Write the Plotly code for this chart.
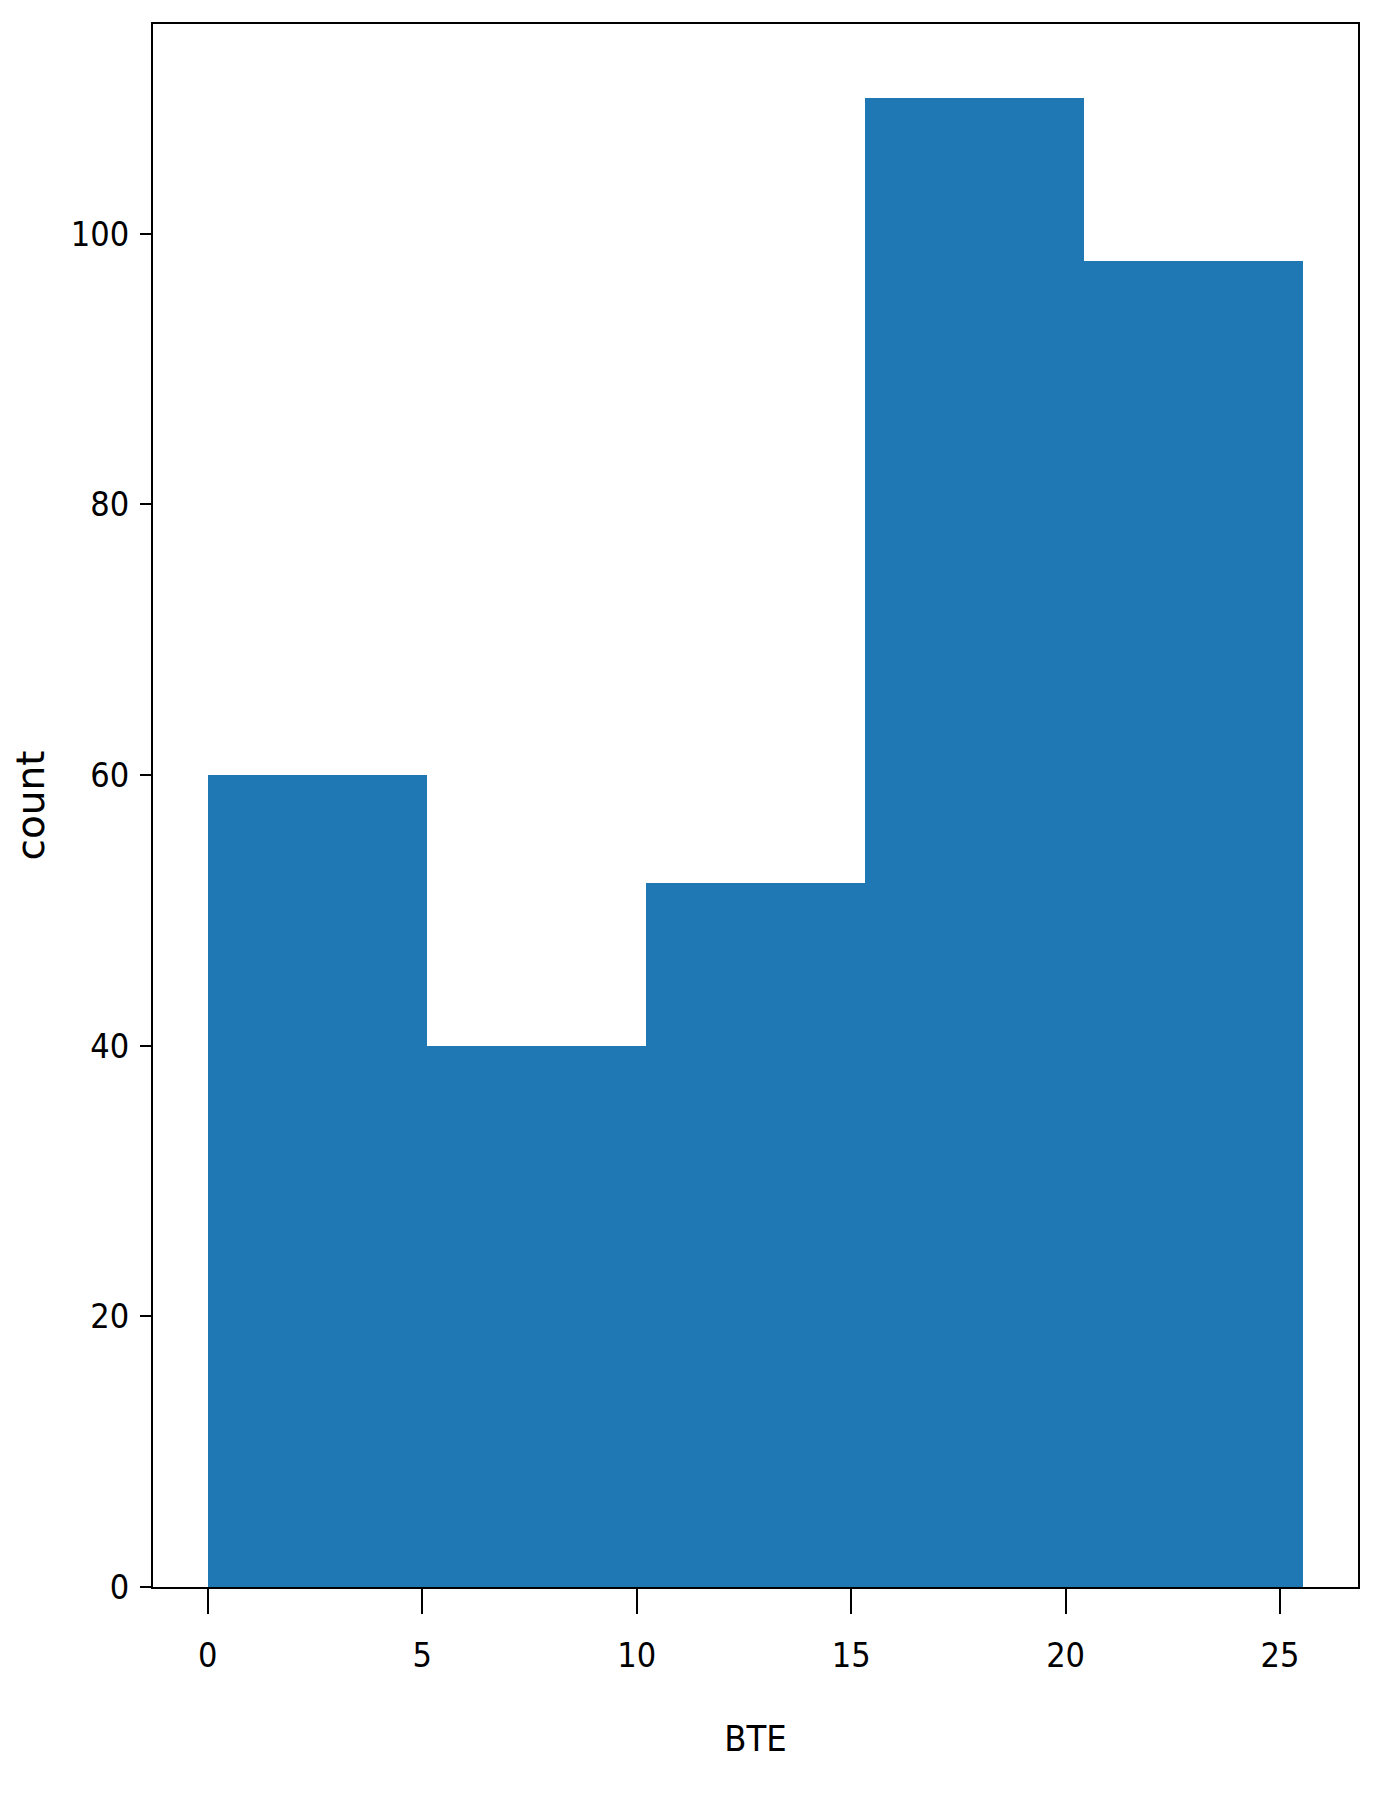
import plotly.graph_objects as go

# histogram of BTE: 5 equal bins from 0 to ~25.5
bin_edges = [0.0, 5.108, 10.216, 15.324, 20.432, 25.54]
counts = [60, 40, 52, 110, 98]

x_ticks = [0, 5, 10, 15, 20, 25]
y_ticks = [0, 20, 40, 60, 80, 100]

lefts = bin_edges[:-1]
widths = [b - a for a, b in zip(bin_edges[:-1], bin_edges[1:])]

FONT = "DejaVu Sans Condensed, Liberation Sans Narrow, DejaVu Sans"

fig = go.Figure()
fig.add_trace(
    go.Bar(
        x=lefts,
        y=counts,
        width=widths,
        offset=0,
        marker=dict(color="#1f77b4", line=dict(width=0)),
        showlegend=False,
    )
)

# matplotlib-like 5% margin on x, 5% headroom on y
span = bin_edges[-1] - bin_edges[0]
x_range = [bin_edges[0] - 0.05 * span, bin_edges[-1] + 0.05 * span]
y_range = [0, max(counts) * 1.05]

fig.update_xaxes(
    range=x_range,
    tickmode="array",
    tickvals=x_ticks,
    ticks="outside",
    ticklen=25,
    tickwidth=2,
    tickcolor="black",
    ticklabelstandoff=12,
    showline=True,
    linecolor="black",
    linewidth=2,
    mirror=True,
    showgrid=False,
    zeroline=False,
    tickfont=dict(family=FONT, size=34, color="black"),
    title=dict(text="BTE", font=dict(family=FONT, size=36, color="black"), standoff=52),
)
fig.update_yaxes(
    range=y_range,
    tickmode="array",
    tickvals=y_ticks,
    ticks="outside",
    ticklen=11,
    tickwidth=2,
    tickcolor="black",
    ticklabelstandoff=4,
    showline=True,
    linecolor="black",
    linewidth=2,
    mirror=True,
    showgrid=False,
    zeroline=False,
    tickfont=dict(family=FONT, size=34, color="black"),
    title=dict(text="count", font=dict(family="DejaVu Sans", size=39, color="black"), standoff=18),
)

# page body keeps its default 8px margin, so size the figure to fit inside it
fig.update_layout(
    width=1372,
    height=1788,
    margin=dict(l=145, r=22, t=16, b=209),
    plot_bgcolor="white",
    paper_bgcolor="white",
    bargap=0,
)

fig.write_html("out.html")
